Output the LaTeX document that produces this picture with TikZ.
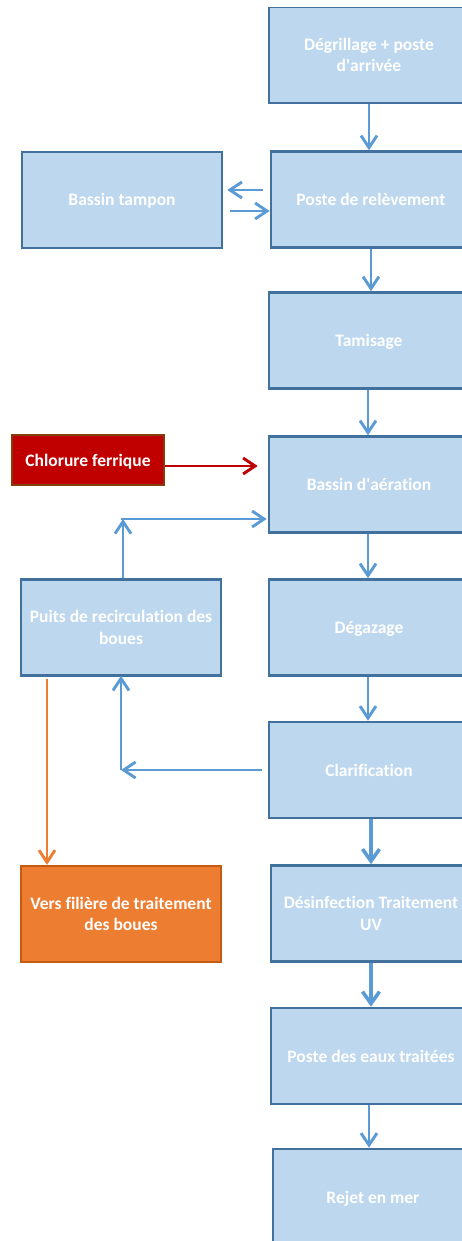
\documentclass[tikz,border=0pt]{standalone}
\usepackage{fontspec}
\setmainfont{Carlito}[Ligatures={TeX,NoCommon}]
\usetikzlibrary{arrows.meta}
\definecolor{boxfill}{HTML}{BDD7EE}
\definecolor{boxline}{HTML}{41719C}
\definecolor{arr}{HTML}{5B9BD5}
\definecolor{redfill}{HTML}{C00000}
\definecolor{redline}{HTML}{843C0C}
\definecolor{redarr}{HTML}{C00000}
\definecolor{orfill}{HTML}{ED7D31}
\definecolor{orline}{HTML}{C55A11}
\tikzset{
  procbox/.style={draw=boxline, fill=boxfill, line width=2.6pt, minimum width=200pt, minimum height=96pt,
    inner sep=0pt, text=white, font=\fontsize{17.5}{21.5}\selectfont\bfseries, align=center},
  oneline/.style={text height=15pt, text depth=3pt},
  chlorbox/.style={draw=redline, fill=redfill, line width=2.8pt, minimum width=152pt, minimum height=50pt,
    inner sep=0pt, text=white, font=\fontsize{17.5}{21.5}\selectfont\bfseries, align=center},
  orbox/.style={draw=orline, fill=orfill, line width=2.4pt, minimum width=200pt, minimum height=96pt,
    inner sep=0pt, text=white, font=\fontsize{17.5}{21.5}\selectfont\bfseries, align=center},
  flow/.style={draw=arr, line width=2.9pt, -{Straight Barb[length=12pt,width=16pt,line width=2.9pt]}},
  thickflow/.style={draw=arr, line width=4pt, -{Straight Barb[length=12pt,width=17pt,line width=3.6pt]}},
  redflow/.style={draw=redarr, line width=2.9pt, -{Straight Barb[length=12pt,width=16pt,line width=2.9pt]}},
  orflow/.style={draw=orfill, line width=2.9pt, -{Straight Barb[length=12pt,width=16pt,line width=2.9pt]}},
}
\begin{document}
\begin{tikzpicture}[x=1pt,y=-1pt]
\useasboundingbox (0,0) rectangle (462,1241);
\clip (0,8) rectangle (462,1241);
% right column
\node[procbox] (degr) at (369,55) {Dégrillage + poste\\d\textquotesingle arrivée};
\node[procbox,oneline] (poste) at (371,199.5) {Poste de relèvement};
\node[procbox,oneline] (tamis) at (369,340.5) {Tamisage};
\node[procbox,oneline] (aer) at (369,484.5) {Bassin d\textquotesingle aération};
\node[procbox,oneline] (degaz) at (369,627.5) {Dégazage};
\node[procbox,oneline] (clar) at (369,770) {Clarification};
\node[procbox] (desinf) at (371,913.5) {Désinfection Traitement\\UV};
\node[procbox,oneline] (eaux) at (371,1056) {Poste des eaux traitées};
\node[procbox,oneline] (rejet) at (373,1197) {Rejet en mer};
% left column
\node[procbox,oneline] (tampon) at (122,200) {Bassin tampon};
\node[chlorbox,oneline] (chlor) at (88,460) {Chlorure ferrique};
\node[procbox] (puits) at (121,627.5) {Puits de recirculation des\\boues};
\node[orbox] (vers) at (121,914) {Vers filière de traitement\\des boues};
% helper coordinates
\coordinate (c1) at (123,519);
\coordinate (c2) at (121,519);
\coordinate (c3) at (121,770);
% main flow
\draw[flow] (degr.south -| {369,0}) -- (poste.north -| {369,0});
\draw[flow] (poste.south) -- (tamis.north -| poste.south);
\draw[flow] ([xshift=-1pt]tamis.south) -- ([xshift=-1pt]aer.north);
\draw[flow] ([xshift=-1pt]aer.south) -- ([xshift=-1pt]degaz.north);
\draw[flow] ([xshift=-1pt]degaz.south) -- ([xshift=-1pt]clar.north);
\draw[thickflow] (clar.south -| desinf.north) -- (desinf.north);
\draw[thickflow] (desinf.south) -- (eaux.north);
\draw[flow] ([xshift=-2pt]eaux.south) -- ([xshift=-2pt]eaux.south |- rejet.north);
% bassin tampon
\draw[flow] ([xshift=-7pt,yshift=9.5pt]poste.west) -- ([xshift=4pt]tampon.east |- {0,190});
\draw[flow] ([xshift=7pt]tampon.east |- {0,211}) -- ([yshift=-11.5pt]poste.west);
% chlorure
\draw[redflow] (chlor.east |- {0,466}) -- ([xshift=-10pt]aer.west |- {0,466});
% recirculation
\draw[flow] (puits.north -| c1) -- (c1);
\draw[flow] (c2) -- ([xshift=-1pt]aer.west |- c2);
\draw[flow] ([xshift=-6pt]clar.west |- c3) -- (c3);
\draw[flow] (c3) -- ([yshift=1pt]puits.south -| c3);
% orange
\draw[orflow] ([yshift=-2pt]puits.south -| {47,0}) -- (vers.north -| {47,0});
\end{tikzpicture}
\end{document}
